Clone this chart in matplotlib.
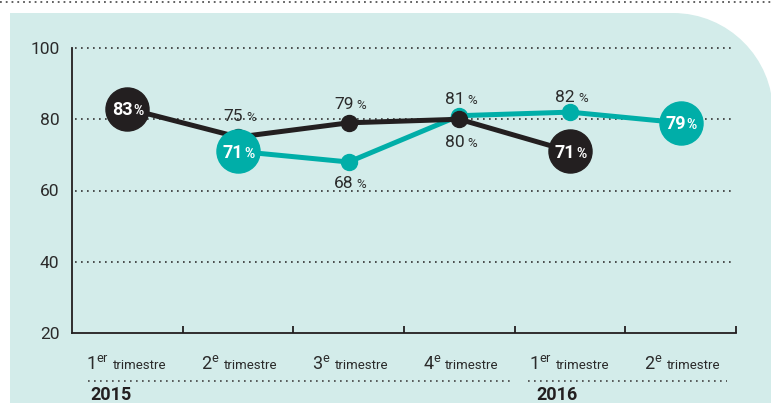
import matplotlib
matplotlib.use("Agg")
import matplotlib.pyplot as plt
from matplotlib.path import Path
from matplotlib.patches import PathPatch
import numpy as np

plt.rcParams['font.family'] = ['Roboto', 'DejaVu Sans']
plt.rcParams['mathtext.fontset'] = 'custom'
plt.rcParams['mathtext.rm'] = 'Roboto'

quarters = ["1", "2", "3", "4", "1", "2"]
quarter_sup = ["er", "e", "e", "e", "er", "e"]
years = ["2015", "2016"]
black_vals = [83, 75, 79, 80, 71]
teal_vals = [None, 71, 68, 81, 82, 79]
y_ticks = [20, 40, 60, 80, 100]

BLACK = "#231f20"
TEAL = "#00aea8"
BG = "#d3ecea"
TXT = "#2b2b2b"

W, H = 771, 403
fig = plt.figure(figsize=(W / 100, H / 100), dpi=100)
fig.patch.set_facecolor("white")

def fx(px): return px / W
def fy(py): return 1 - py / H

# background panel with rounded top-right corner
r = 100
k = 0.5523
left, top, right, bottom = 10, 13, W + 2, H + 2
verts = [(fx(left), fy(bottom)), (fx(left), fy(top)), (fx(right - r), fy(top)),
         (fx(right - r + k * r), fy(top)), (fx(right), fy(top + r - k * r)), (fx(right), fy(top + r)),
         (fx(right), fy(bottom)), (fx(left), fy(bottom))]
codes = [Path.MOVETO, Path.LINETO, Path.LINETO, Path.CURVE4, Path.CURVE4, Path.CURVE4,
         Path.LINETO, Path.CLOSEPOLY]
fig.add_artist(PathPatch(Path(verts, codes), transform=fig.transFigure,
                         facecolor=BG, edgecolor="none", zorder=-10))
fig.add_artist(plt.Line2D([0, 1], [fy(2), fy(2)], transform=fig.transFigure,
                          color="#555555", lw=1.3, linestyle=(0, (1, 2.2)), zorder=-5))

ax = fig.add_axes([72 / W, 1 - 333 / H, (736 - 72) / W, (333 - 48) / H])
ax.set_zorder(5)
ax.set_facecolor("none")
n = len(quarters)
xs = np.arange(n) + 0.5
ax.set_xlim(0, n)
ax.set_ylim(20, 100)

for yv in y_ticks[1:]:
    ax.plot([0.03, n - 0.01], [yv, yv], color="#333333", lw=1.2,
            linestyle=(0, (1, 2.6)), zorder=1, clip_on=False)

for s in ["top", "right"]:
    ax.spines[s].set_visible(False)
for s in ["left", "bottom"]:
    ax.spines[s].set_color(BLACK)
    ax.spines[s].set_linewidth(1.3)
ax.set_xticks(np.arange(1, n + 1))
ax.set_xticklabels([])
ax.tick_params(axis="x", direction="in", length=5, width=1.3, color=BLACK)
ax.set_yticks(y_ticks)
ax.set_yticklabels([str(v) for v in y_ticks], fontsize=12.5, color=TXT)
ax.tick_params(axis="y", length=0, pad=9)

bx = xs[:len(black_vals)]
tx = [x for x, v in zip(xs, teal_vals) if v is not None]
tv = [v for v in teal_vals if v is not None]

ax.plot(tx, tv, color=TEAL, lw=3.6, zorder=3, solid_capstyle="round")
ax.plot(tx[1:-1], tv[1:-1], "o", color=TEAL, ms=11.5, zorder=3)
ax.plot(bx, black_vals, color=BLACK, lw=3.6, zorder=4, solid_capstyle="round")
ax.plot(bx[1:-1], black_vals[1:-1], "o", color=BLACK, ms=11.5, zorder=4)
ax.plot([bx[0], bx[-1]], [black_vals[0], black_vals[-1]], "o", color=BLACK, ms=31, zorder=5)
ax.plot([tx[0], tx[-1]], [tv[0], tv[-1]], "o", color=TEAL, ms=31, zorder=6)

def P(px):
    return px * 0.72

def label(x, y, val, dy, color=TXT, big=False, z=7):
    num = f"{val}"
    if big:
        ax.annotate(num, (x, y), xytext=(P(5), P(dy)), textcoords="offset points",
                    ha="right", va="baseline", fontsize=13, fontweight="bold",
                    color=color, zorder=z)
        ax.annotate("%", (x, y), xytext=(P(6), P(dy)), textcoords="offset points",
                    ha="left", va="baseline", fontsize=10, fontweight="bold",
                    color=color, zorder=z)
    else:
        ax.annotate(num, (x, y), xytext=(P(5), P(dy)), textcoords="offset points",
                    ha="right", va="baseline", fontsize=12.5, color=color, zorder=z)
        ax.annotate("%", (x, y), xytext=(P(8), P(dy)), textcoords="offset points",
                    ha="left", va="baseline", fontsize=9.5, color=color, zorder=z)

label(bx[0], black_vals[0], black_vals[0], -6.5, color="white", big=True)
label(bx[-1], black_vals[-1], black_vals[-1], -6.5, color="white", big=True)
label(tx[0], tv[0], tv[0], -6.5, color="white", big=True)
label(tx[-1], tv[-1], tv[-1], -6.5, color="white", big=True)
label(bx[1], black_vals[1], black_vals[1], 16)
label(bx[2], black_vals[2], black_vals[2], 13.5)
label(bx[3], black_vals[3], black_vals[3], -28)
label(tx[1], tv[1], tv[1], -26)
label(tx[2], tv[2], tv[2], 12)
label(tx[3], tv[3], tv[3], 10)

for x, q, sup in zip(xs, quarters, quarter_sup):
    ax.annotate(q + r"$^{\mathregular{" + sup + "}}$", (x, 20), xytext=(P(-18), P(-36)),
                textcoords="offset points", ha="right", va="baseline",
                fontsize=13, color=TXT, annotation_clip=False)
    ax.annotate("trimestre", (x, 20), xytext=(P(-14), P(-36)),
                textcoords="offset points", ha="left", va="baseline",
                fontsize=9.5, color=TXT, annotation_clip=False)

sep_y = fy(381)
for x0, x1 in [(88, 510), (528, 727)]:
    fig.add_artist(plt.Line2D([fx(x0), fx(x1)], [sep_y, sep_y], transform=fig.transFigure,
                              color="#444444", lw=1.2, linestyle=(0, (1, 2.6))))
fig.text(fx(90), fy(399.5), years[0], fontsize=13, fontweight="bold", color=BLACK,
         ha="left", va="baseline")
fig.text(fx(536), fy(399.5), years[1], fontsize=13, fontweight="bold", color=BLACK,
         ha="left", va="baseline")

fig.savefig("out.png", dpi=100, facecolor="white")
